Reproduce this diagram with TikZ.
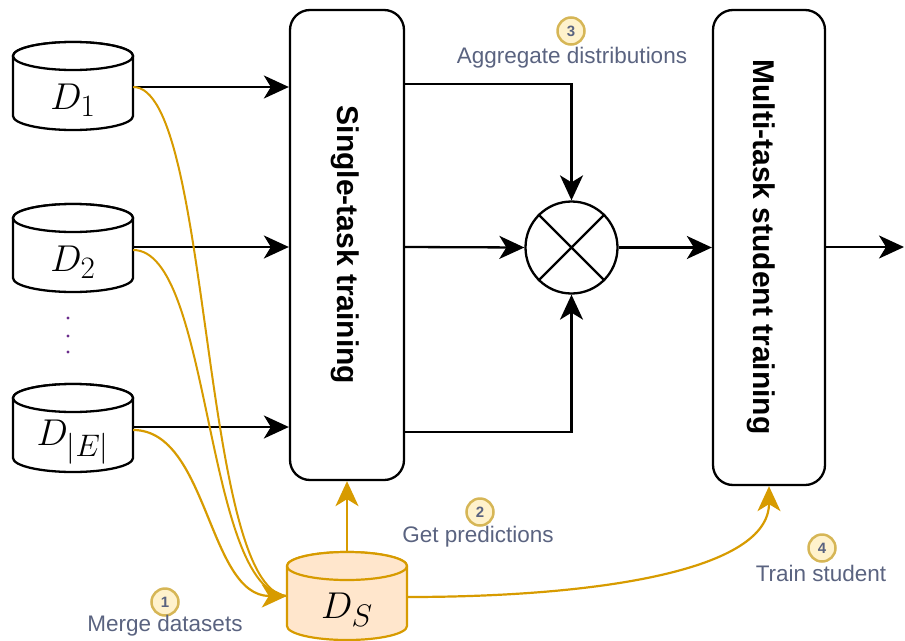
\documentclass[tikz,border=0pt]{standalone}
\usepackage{fontspec}
\setmainfont{Liberation Sans}
\usetikzlibrary{arrows.meta}
\definecolor{orng}{HTML}{D79B00}
\definecolor{orngfill}{HTML}{FFE6CC}
\definecolor{ylwfill}{HTML}{FFF2CC}
\definecolor{ylwdraw}{HTML}{D6B656}
\definecolor{lblcol}{HTML}{5A6380}
\definecolor{dotcol}{HTML}{6A2C8C}
\tikzset{
  x=1pt, y=-1pt,
  blk/.style={draw=black, line width=2.3pt},
  flow/.style={blk, -{Stealth[length=25pt,width=23pt,inset=7pt]}},
  oflow/.style={draw=orng, line width=2.2pt, -{Stealth[length=25pt,width=23pt,inset=7pt]}},
  ocurve/.style={draw=orng, line width=2pt},
  stagebox/.style={draw=black, line width=2.3pt, rounded corners=20pt, fill=white},
  vtext/.style={rotate=-90, font=\bfseries\fontsize{30}{34}\selectfont},
  numcirc/.style={circle, draw=ylwdraw, fill=ylwfill, line width=2.5pt, minimum size=27pt, inner sep=0pt, text=lblcol, font=\bfseries\fontsize{15}{16}\selectfont},
  lbl/.style={text=lblcol, font=\fontsize{22.5}{24}\selectfont, inner sep=0pt},
  cylbody/.style={draw=black, line width=2.3pt, fill=white},
  dslbl/.style={inner sep=0pt},
}
\newcommand\dbcyl[5]{%
  \path[#5] (#2-60,#3-30) -- (#2-60,#3+30) arc[start angle=180,end angle=0,x radius=60,y radius=14] -- (#2+60,#3-30) arc[start angle=0,end angle=-180,x radius=60,y radius=14] -- cycle;
  \path[#5] (#2,#3-30) ellipse[x radius=60,y radius=14];
  \node[minimum width=120pt, minimum height=88pt, inner sep=0pt] (#1) at (#2,#3) {};
  \node[dslbl] (#1lbl) at (#2,#3+14) {\scalebox{1.5}{\Huge #4}};
}
\begin{document}
\begin{tikzpicture}
\useasboundingbox (0,0) rectangle (905,640);
% datasets
\dbcyl{d1}{73}{86}{$D_1$}{cylbody}
\dbcyl{d2}{73}{248}{$D_2$}{cylbody}
\dbcyl{de}{73}{428}{$D_{|E|}$}{cylbody}
\dbcyl{ds}{347}{596}{$D_S$}{draw=orng, line width=2.2pt, fill=orngfill}
% dots
\fill[dotcol] (68,318) circle (1.6pt) (68,336) circle (1.6pt) (68,352) circle (1.6pt);
% boxes
\node[stagebox, minimum width=114pt, minimum height=470pt] (st) at (347,245) {};
\node[vtext] (sttxt) at (345,245) {Single-task training};
\node[stagebox, minimum width=112pt, minimum height=475pt] (mt) at (769,247.5) {};
\node[vtext] (mttxt) at (761,247) {Multi-task student training};
% aggregation circle
\node[circle, draw=black, line width=2.3pt, minimum size=92pt, inner sep=0pt] (agg) at (571.5,247.5) {};
\draw[blk] (agg.north west) -- (agg.south east) (agg.north east) -- (agg.south west);
% coordinates
\coordinate (out) at (904,247);
% black connectors
\draw[flow] (d1.east |- 0,87) -- (st.west |- 0,87);
\draw[flow] (d2.east |- 0,247) -- (st.west |- 0,247);
\draw[flow] (de.east |- 0,427) -- (st.west |- 0,427);
\draw[flow] (st.east |- 0,84) -| (agg.north);
\draw[flow] (st.east |- 0,247) -- (agg.west);
\draw[flow] (st.east |- 0,432) -| (agg.south);
\draw[flow] (agg.east) -- (mt.west |- agg.east);
\draw[flow] (mt.east |- 0,247) -- (out);
% orange connectors
\draw[ocurve] (d1.east |- 0,87) .. controls (212,87) and (200,590) .. (ds.west |- 0,596);
\draw[ocurve] (d2.east |- 0,250) .. controls (212,250) and (204,592) .. (ds.west |- 0,596);
\draw[oflow] (de.east |- 0,430) .. controls (208,430) and (208,596) .. (ds.west |- 0,596);
\draw[oflow] (ds.north) -- (st.south);
\draw[oflow] (ds.east |- 0,597) .. controls (600,597) and (769,570) .. (mt.south -| 769,0);
% labels
\node[numcirc] (n1) at (165,602) {1};
\node[lbl] (l1) at (165,626) {Merge datasets};
\node[numcirc] (n2) at (480,512) {2};
\node[lbl] (l2) at (478,537) {Get predictions};
\node[numcirc] (n3) at (571,31) {3};
\node[lbl] (l3) at (572,58) {Aggregate distributions};
\node[numcirc] (n4) at (822,548) {4};
\node[lbl] (l4) at (821,573) {Train student};
\end{tikzpicture}
\end{document}
